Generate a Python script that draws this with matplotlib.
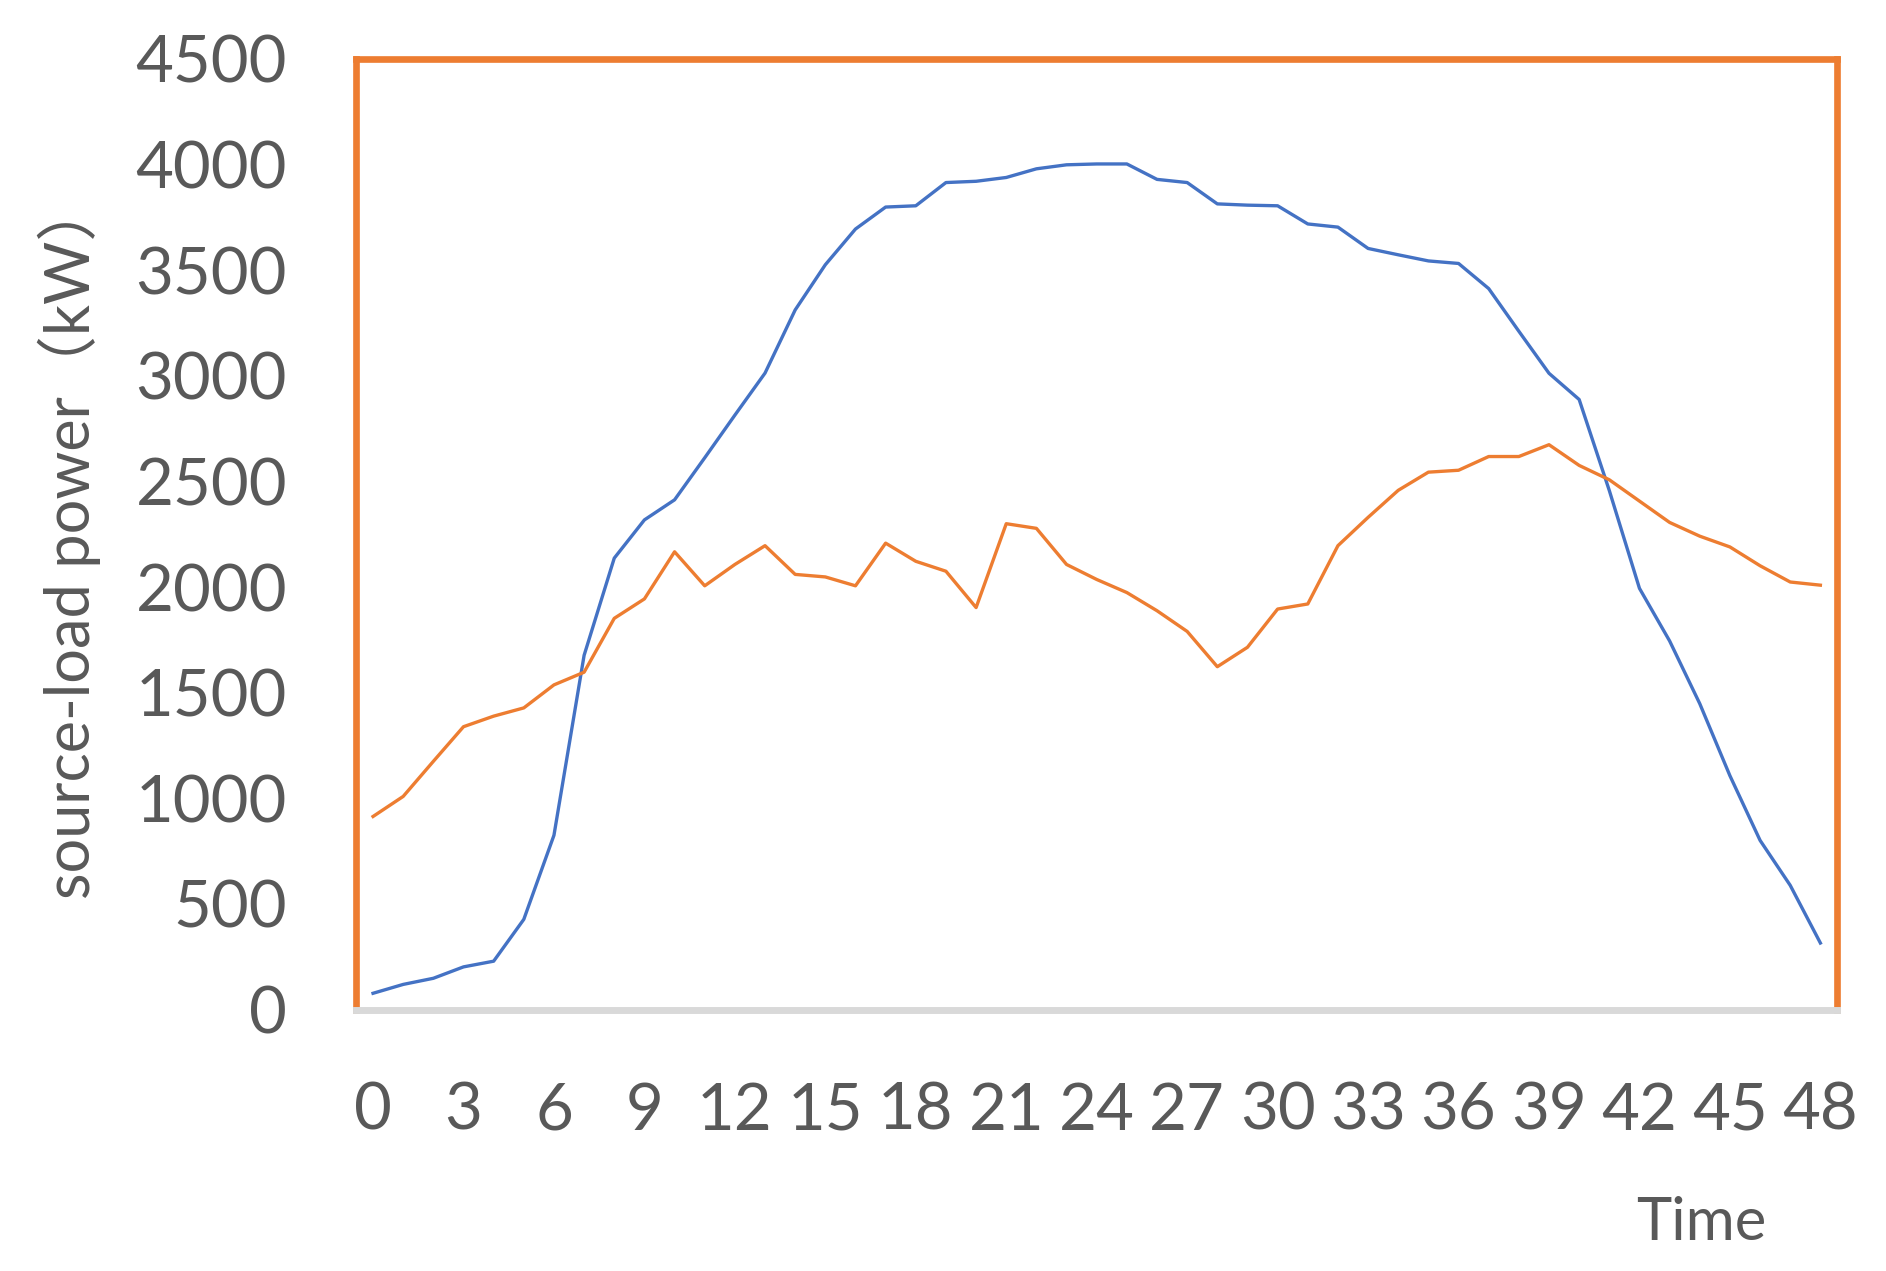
#!/usr/bin/env python3
"""
48時点の電源出力と負荷電力の推移を折れ線グラフで描くスクリプト
"""

import matplotlib
matplotlib.use('Agg')
import matplotlib.pyplot as plt

# 時刻 (0-48)
time_points = list(range(49))

# 電源側出力 (青線)
source_power = [77, 119, 148, 202, 229, 427, 825, 1677, 2137, 2318,
                2413, 2612, 2814, 3013, 3312, 3526, 3695, 3799, 3805, 3915,
                3921, 3939, 3980, 3999, 4003, 4003, 3930, 3915, 3814, 3808,
                3805, 3719, 3704, 3603, 3573, 3544, 3532, 3413, 3211, 3012,
                2888, 2457, 1994, 1745, 1448, 1107, 801, 588, 315]

# 負荷電力 (橙線)
load_power = [914, 1009, 1175, 1339, 1389, 1428, 1537, 1597, 1852, 1944,
              2167, 2006, 2107, 2196, 2060, 2048, 2006, 2208, 2122, 2075,
              1903, 2300, 2278, 2107, 2036, 1974, 1888, 1790, 1623, 1715,
              1896, 1920, 2196, 2330, 2458, 2544, 2553, 2618, 2618, 2674,
              2576, 2508, 2407, 2306, 2241, 2190, 2101, 2024, 2009]

x_ticks = list(range(0, 49, 3))
y_ticks = list(range(0, 4501, 500))

BLUE = '#4472C4'
ORANGE = '#ED7D31'
TEXT_GRAY = '#595959'


def main():
    plt.rcParams['font.family'] = ['Lato', 'Noto Sans CJK SC', 'DejaVu Sans']

    fig = plt.figure(figsize=(18.86, 12.71), dpi=100)
    ax = fig.add_axes([0.189, 0.2057, 0.785, 0.7479])

    ax.plot(time_points, source_power, color=BLUE, linewidth=2.4)
    ax.plot(time_points, load_power, color=ORANGE, linewidth=2.4)

    ax.set_xlim(-0.55, 48.55)
    ax.set_ylim(0, 4500)
    ax.set_xticks(x_ticks)
    ax.set_yticks(y_ticks)
    ax.tick_params(axis='both', length=0, labelsize=47, labelcolor=TEXT_GRAY)
    ax.tick_params(axis='y', pad=50)
    ax.tick_params(axis='x', pad=52)

    # 外枠: 上・左・右は橙、下は灰色の軸線
    for side in ['top', 'left', 'right']:
        ax.spines[side].set_color(ORANGE)
        ax.spines[side].set_linewidth(4.8)
    ax.spines['bottom'].set_color('#D9D9D9')
    ax.spines['bottom'].set_linewidth(5)
    ax.spines['bottom'].set_zorder(3)

    fig.text(69 / 1886, 1 - 539 / 1271, 'source-load power（kW）',
             rotation=90, ha='center', va='center', fontsize=44, color=TEXT_GRAY)
    fig.text(1701 / 1886, 1 - 1223 / 1271, 'Time',
             ha='center', va='center', fontsize=43, color=TEXT_GRAY)

    plt.savefig('out.png', dpi=100)
    plt.close()


if __name__ == "__main__":
    main()
